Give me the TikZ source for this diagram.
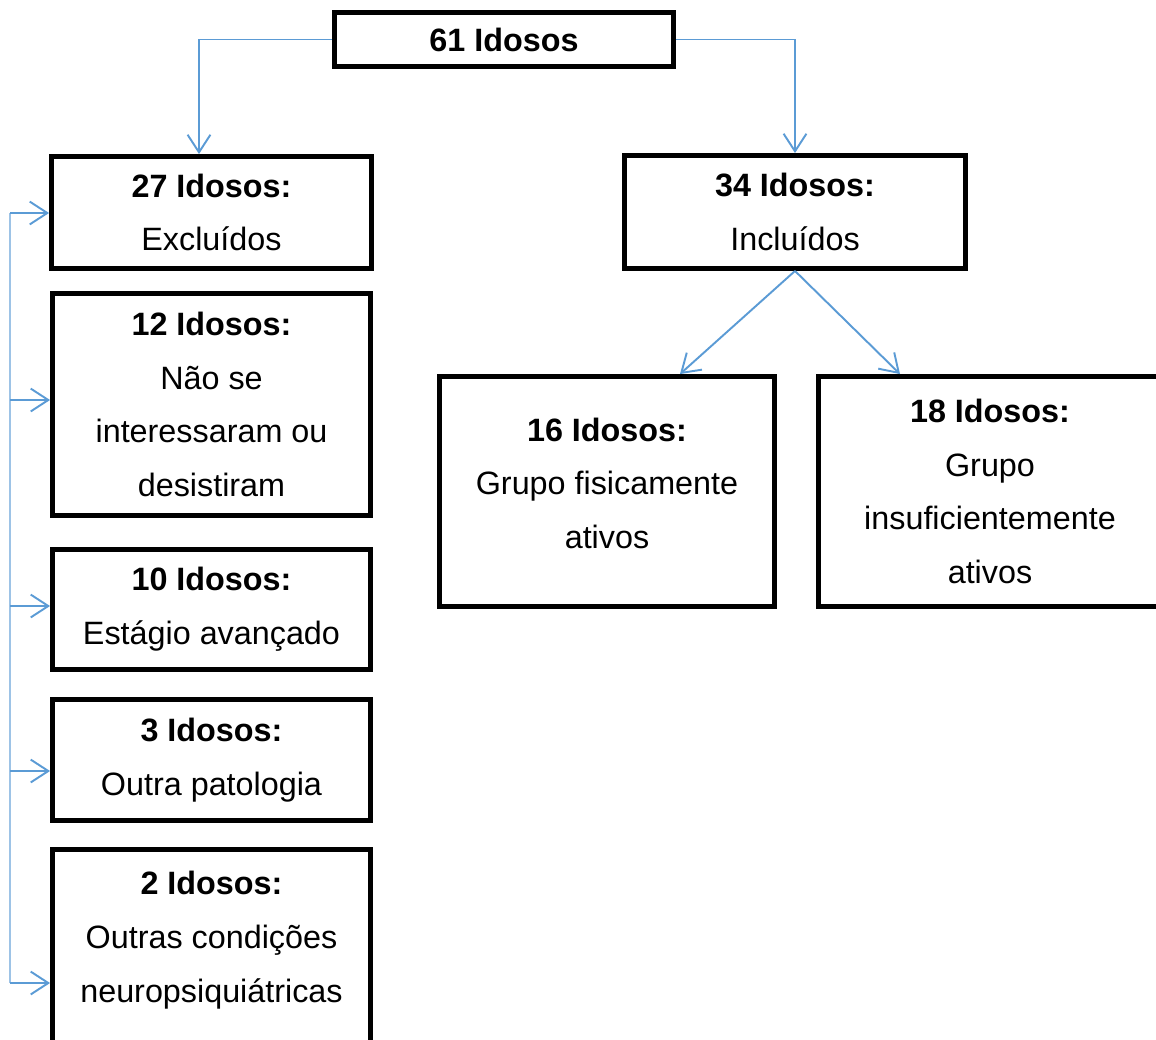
\documentclass[tikz,border=0pt]{standalone}
\usepackage{fontspec}
\setmainfont{Liberation Sans}
\usetikzlibrary{arrows.meta}
\definecolor{azul}{HTML}{5B9BD5}
\definecolor{azulclaro}{HTML}{9DC3E6}
\newcommand{\cajafont}{\fontsize{18.4}{30.6}\selectfont}
\begin{document}
\begin{tikzpicture}[x=0.02cm,y=-0.02cm,
    caja/.style={draw,line width=2.8pt,align=center,font=\cajafont,inner sep=0pt,minimum width=6.36cm},
    flecha/.style={draw=azul,line width=1.1pt,-{Straight Barb[length=10pt,width=13pt,line width=1.1pt]}}]
  \useasboundingbox (0,0) rectangle (1156,1039);
  % caja superior
  \node[caja,minimum width=6.78cm,minimum height=1.08cm] (total) at (504,39.5) {\textbf{61 Idosos}};
  % excluidos
  \node[caja,minimum width=6.4cm,minimum height=2.24cm] (excl) at (211.5,212.5) {\textbf{27 Idosos:}\\Excluídos};
  \node[caja,minimum height=4.44cm] (nint) at (211.5,404.5) {\textbf{12 Idosos:}\\Não se\\interessaram ou\\desistiram};
  \node[caja,minimum height=2.4cm] (estag) at (211.5,609.5) {\textbf{10 Idosos:}\\Estágio avançado};
  \node[caja,minimum height=2.42cm] (pato) at (211.5,760) {\textbf{3 Idosos:}\\Outra patologia};
  \node[caja,minimum height=4.26cm] (neuro) at (211.5,956) {\textbf{2 Idosos:}\\Outras condições\\neuropsiquiátricas\\[-8.6pt]\mbox{}};
  % incluidos
  \node[caja,minimum width=6.82cm,minimum height=2.26cm] (incl) at (795,212) {\textbf{34 Idosos:}\\Incluídos};
  \node[caja,minimum width=6.7cm,minimum height=4.6cm] (ativ) at (607,491.5) {\textbf{16 Idosos:}\\Grupo fisicamente\\ativos\\[-21pt]\mbox{}};
  \node[caja,minimum width=6.86cm,minimum height=4.6cm] (insuf) at (990,491.5) {\textbf{18 Idosos:}\\Grupo\\insuficientemente\\ativos};
  % conectores
  \draw[flecha] (total.west) -| ([xshift=-0.25cm]excl.north);
  \draw[flecha] (total.east) -| (incl.north);
  \draw[flecha] (incl.south) -- ([xshift=1.46cm]ativ.north);
  \draw[flecha] (incl.south) -- ([xshift=-1.8cm]insuf.north);
  % llave izquierda
  \coordinate (b1) at (10,213);
  \coordinate (b2) at (10,400);
  \coordinate (b3) at (10,606);
  \coordinate (b4) at (10,771);
  \coordinate (b5) at (10,983);
  \draw[azulclaro,line width=1.1pt] (b1) -- (b5);
  \draw[flecha] (b1) -- (b1 -| excl.west);
  \draw[flecha] (b2) -- (b2 -| nint.west);
  \draw[flecha] (b3) -- (b3 -| estag.west);
  \draw[flecha] (b4) -- (b4 -| pato.west);
  \draw[flecha] (b5) -- (b5 -| neuro.west);
\end{tikzpicture}
\end{document}
